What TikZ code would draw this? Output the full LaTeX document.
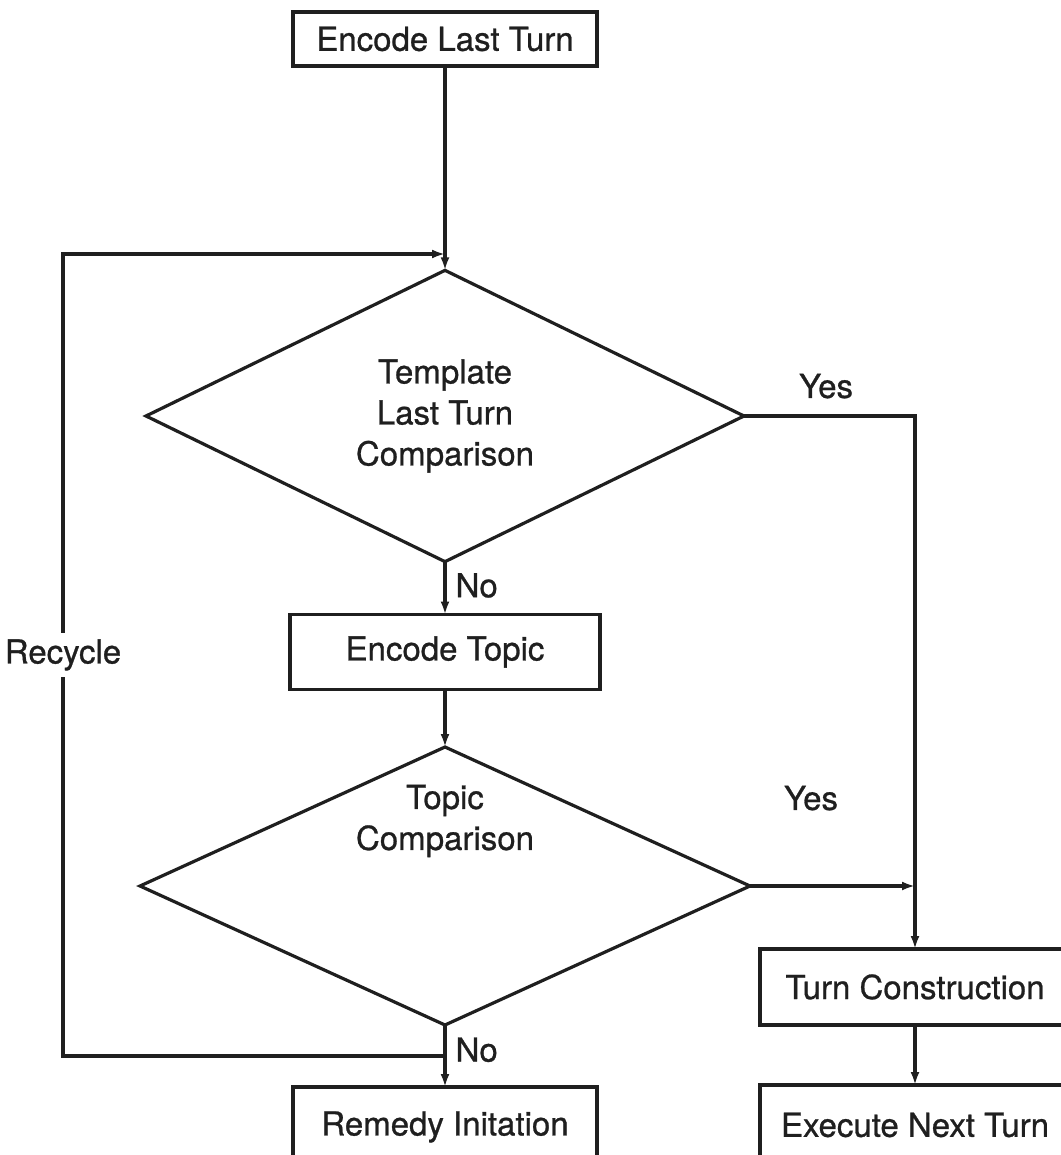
\documentclass[tikz,border=0pt]{standalone}
\usepackage{fontspec}
\setmainfont[FakeBold=0.8]{TeX Gyre Heros}
\usetikzlibrary{shapes.geometric,arrows.meta}
\begin{document}
\begin{tikzpicture}[x=1pt,y=-1pt,
  line width=3.2pt, draw=black!88, text=black!88,
  font=\fontsize{33}{41}\selectfont,
  box/.style={rectangle, draw, inner sep=0pt, outer sep=0pt},
  decision/.style={diamond, draw, inner sep=0pt, outer sep=0pt, align=center},
  flow/.style={-{Latex[length=13pt,width=9pt]}},
  answer/.style={inner sep=9pt}]
\useasboundingbox (0,0) rectangle (1060,1155);
\node [box, minimum width=304, minimum height=54] (elt) at (445,39) {Encode Last Turn};
\node [decision, minimum width=598, minimum height=275] (tltc) at (445,416) {Template\\Last Turn\\Comparison};
\node [box, minimum width=310, minimum height=75] (et) at (445,652) {Encode Topic};
\node [decision, minimum width=610, minimum height=278, label={[yshift=65pt, align=center]center:Topic\\Comparison}] (tc) at (445,886) {};
\node [box, minimum width=304, minimum height=80] (ri) at (445,1127) {Remedy Initation};
\node [box, minimum width=310, minimum height=76] (tcn) at (915,987) {Turn Construction};
\node [box, minimum width=310, minimum height=80] (ent) at (915,1125) {Execute Next Turn};
\coordinate (rtop) at (445,254);
\coordinate (rbot) at (445,1056);
\coordinate (ltop) at (63,254);
\coordinate (lbot) at (63,1056);
\coordinate (yjoin) at (915,886);
\draw [flow] (elt) -- (tltc.north);
\draw [flow] (rbot) -- (lbot) -- node [fill=white, inner sep=6pt] {Recycle} (ltop) -- (rtop);
\draw [flow] (tltc.south) -- node [answer, right, pos=0.45] {No} (et.north);
\draw [flow] (et.south) -- (tc.north);
\draw [flow] (tc.south) -- node [answer, right, pos=0.4] {No} (ri.north);
\draw [flow] (tltc.east) -- node [answer, above, pos=0.48, inner sep=4pt, yshift=12pt] {Yes} (tltc.east -| tcn.north) -- (tcn.north);
\draw [flow] (tc.east) -- node [answer, above, pos=0.37, inner sep=4pt, yshift=70pt] {Yes} (yjoin);
\draw [flow] (tcn.south) -- (ent.north);
\end{tikzpicture}
\end{document}
